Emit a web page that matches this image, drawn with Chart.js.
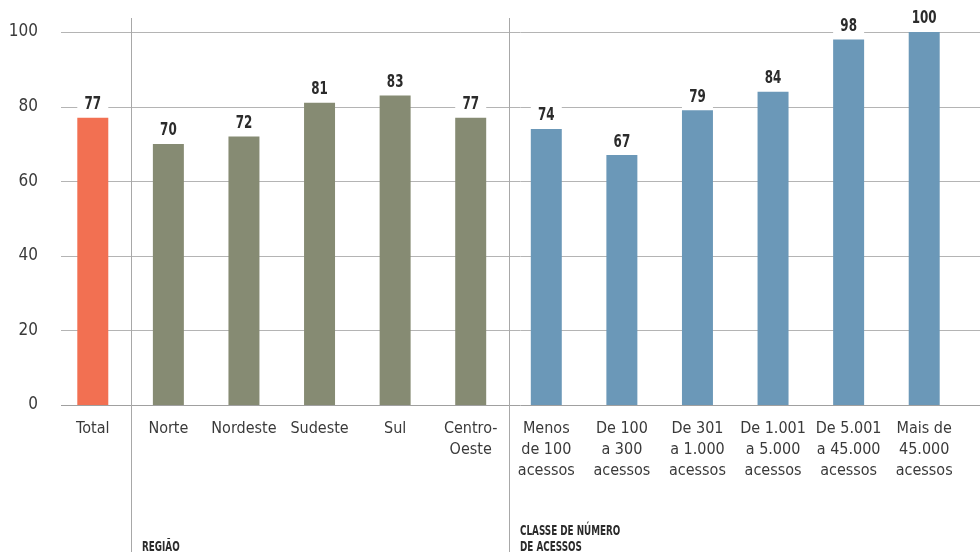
<html><head>
<meta charset="UTF-8">
<title>Acessos por região e classe</title>
<style>
  body { margin: 0; background: #fff; }
  #wrap { width: 980px; height: 552px; }
</style>
<script src="https://cdn.jsdelivr.net/npm/chart.js"></script>
</head>
<body>
<div id="wrap"><canvas id="barChart" width="980" height="552"></canvas></div>
<script>
const categories = [
  'Total', 'Norte', 'Nordeste', 'Sudeste', 'Sul', ['Centro-', 'Oeste'],
  ['Menos', 'de 100', 'acessos'], ['De 100', 'a 300', 'acessos'], ['De 301', 'a 1.000', 'acessos'],
  ['De 1.001', 'a 5.000', 'acessos'], ['De 5.001', 'a 45.000', 'acessos'], ['Mais de', '45.000', 'acessos']
];
const values = [77, 70, 72, 81, 83, 77, 74, 67, 79, 84, 98, 100];
const groups = ['total', 'regiao', 'regiao', 'regiao', 'regiao', 'regiao',
  'classe', 'classe', 'classe', 'classe', 'classe', 'classe'];
const groupColors = { total: '#f27052', regiao: '#868b73', classe: '#6b98b8' };
const yTicks = [0, 20, 40, 60, 80, 100];

const FONT = "'DejaVu Sans Condensed', 'Liberation Sans Narrow', sans-serif";

// draw text squeezed horizontally, the original uses a condensed face
function narrowText(ctx, text, x, y, sx) {
  ctx.save();
  ctx.translate(x, y);
  ctx.scale(sx, 1);
  ctx.fillText(text, 0, 0);
  ctx.restore();
}

const decor = {
  id: 'decor',
  beforeDatasetsDraw(chart) {
    const ctx = chart.ctx, x = chart.scales.x, y = chart.scales.y;
    ctx.save();
    ctx.lineWidth = 1;
    yTicks.forEach(t => {
      const py = Math.round(y.getPixelForValue(t)) + 0.5;
      ctx.strokeStyle = t === 0 ? '#a0a0a0' : '#b4b4b4';
      ctx.beginPath(); ctx.moveTo(61, py); ctx.lineTo(chart.width, py); ctx.stroke();
    });
    // separators between the groups
    [1, 6].forEach(i => {
      const px = Math.round((x.getPixelForValue(i - 1) + x.getPixelForValue(i)) / 2) + 0.5;
      ctx.strokeStyle = '#a8a8a8';
      ctx.beginPath(); ctx.moveTo(px, 18); ctx.lineTo(px, chart.height); ctx.stroke();
    });
    ctx.restore();
  },
  afterDatasetsDraw(chart) {
    const ctx = chart.ctx;
    const meta = chart.getDatasetMeta(0);
    ctx.save();
    meta.data.forEach((bar, i) => {
      const w = bar.width;
      ctx.fillStyle = '#fff';
      ctx.fillRect(bar.x - w / 2, bar.y - 26, w, 25);
      ctx.fillStyle = '#2b2b2b';
      ctx.font = 'bold 17px ' + FONT;
      ctx.textAlign = 'center';
      ctx.textBaseline = 'middle';
      narrowText(ctx, String(values[i]), bar.x, bar.y - 13, 0.78);
    });
    ctx.fillStyle = '#2b2b2b';
    ctx.font = 'bold 14px ' + FONT;
    ctx.textAlign = 'left';
    ctx.textBaseline = 'alphabetic';
    narrowText(ctx, 'REGIÃO', 142, 551, 0.7);
    narrowText(ctx, 'CLASSE DE NÚMERO', 520, 535, 0.7);
    narrowText(ctx, 'DE ACESSOS', 520, 551, 0.7);
    ctx.restore();
  }
};

new Chart(document.getElementById('barChart'), {
  type: 'bar',
  data: {
    labels: categories,
    datasets: [{
      data: values,
      backgroundColor: groups.map(g => groupColors[g]),
      barPercentage: 0.41,
      categoryPercentage: 1
    }]
  },
  options: {
    responsive: false,
    animation: false,
    layout: { padding: { top: 32, right: 18, bottom: 0, left: 0 } },
    plugins: { legend: { display: false }, tooltip: { enabled: false } },
    scales: {
      x: {
        grid: { display: false, drawTicks: false },
        border: { display: false },
        ticks: { color: '#3a3a3a', font: { family: FONT, size: 16, lineHeight: 1.32 }, padding: 13, maxRotation: 0, autoSkip: false },
        afterFit(scale) { scale.height = 147; }
      },
      y: {
        min: 0, max: 100,
        grid: { display: false, drawTicks: false },
        border: { display: false },
        ticks: { stepSize: 20, color: '#3a3a3a', font: { family: FONT, size: 17 }, padding: 17 },
        afterFit(scale) { scale.width = 55; }
      }
    }
  },
  plugins: [decor]
});
</script>
</body></html>
